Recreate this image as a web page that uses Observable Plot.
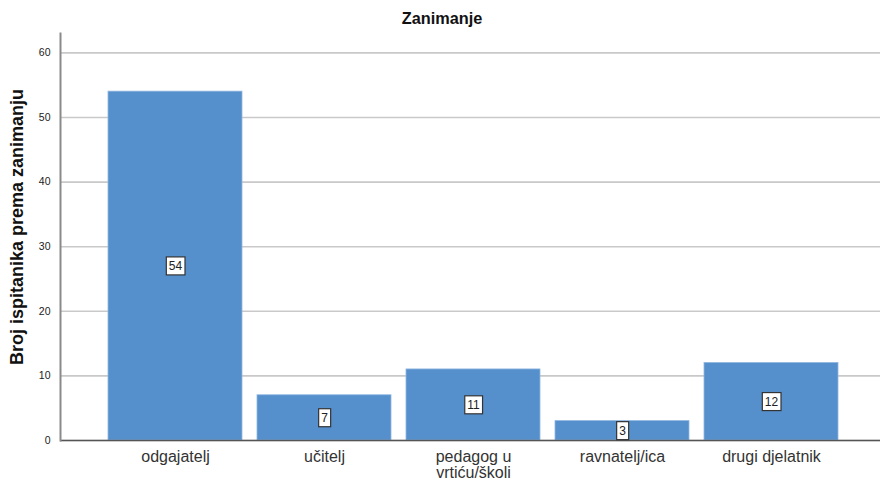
<!DOCTYPE html>
<html>
<head>
<meta charset="utf-8">
<script src="https://cdn.jsdelivr.net/npm/d3@7"></script>
<script src="https://cdn.jsdelivr.net/npm/@observablehq/plot@0.6"></script>
<style>
  body { margin: 0; background: #fff; }
  #wrap { position: relative; width: 880px; height: 481px; font-family: "Liberation Sans", Arial, sans-serif; }
  #title { position: absolute; top: 9px; left: 2px; width: 880px; text-align: center; font-weight: bold; font-size: 16.3px; color: #111; }
</style>
</head>
<body>
<div id="wrap"><div id="title">Zanimanje</div></div>
<script>
const categories = ["odgajatelj", "učitelj", "pedagog u vrtiću/školi", "ravnatelj/ica", "drugi djelatnik"];
const tickLabels = ["odgajatelj", "učitelj", "pedagog u\nvrtiću/školi", "ravnatelj/ica", "drugi djelatnik"];
const counts = [54, 7, 11, 3, 12];
const yTicks = [0, 10, 20, 30, 40, 50, 60];
const yLabel = "Broj ispitanika prema zanimanju";

const data = categories.map((c, i) => ({cat: c, n: counts[i]}));
const labelMap = new Map(categories.map((c, i) => [c, tickLabels[i]]));

const chart = Plot.plot({
  width: 880,
  height: 481,
  marginTop: 33,
  marginBottom: 41,
  marginLeft: 60,
  marginRight: 0,
  style: {fontFamily: "Liberation Sans, Arial, sans-serif", background: "#fff"},
  x: {domain: categories, range: [60, 886], paddingInner: 0.1, paddingOuter: 0.32, label: null},
  y: {domain: [0, 63], label: null},
  marks: [
    Plot.gridY(yTicks, {stroke: "#c9c9c9", strokeWidth: 1.6, strokeOpacity: 1}),
    Plot.barY(data, {x: "cat", y: "n", fill: "#5590cc", stroke: "#8fb6e0", strokeWidth: 0.8}),
    Plot.ruleY([0], {stroke: "#555", strokeWidth: 1.5}),
    Plot.frame({anchor: "left", stroke: "#8a8a8a", strokeWidth: 2}),
    Plot.axisY(yTicks, {tickSize: 0, tickPadding: 10, fontSize: 10.5, fill: "#222", label: null}),
    Plot.axisX({tickSize: 0, tickPadding: 10, fontSize: 16, fill: "#333", label: null, tickFormat: d => labelMap.get(d), lineHeight: 1.0}),
    Plot.text([yLabel], {frameAnchor: "left", textAnchor: "middle", rotate: -90, dx: -43, dy: -10, fontSize: 18, fontWeight: "bold", fill: "#111"}),
    Plot.text(data, {x: "cat", y: d => d.n / 2, text: d => String(d.n), fontSize: 12, fill: "#222", className: "vlabel"})
  ]
});
document.getElementById("wrap").appendChild(chart);

// draw white boxes behind value labels
const texts = chart.querySelectorAll(".vlabel text");
texts.forEach(t => {
  const b = t.getBBox();
  const r = document.createElementNS("http://www.w3.org/2000/svg", "rect");
  r.setAttribute("x", b.x - 2.5);
  r.setAttribute("y", b.y - 2);
  r.setAttribute("width", b.width + 5);
  r.setAttribute("height", b.height + 4);
  r.setAttribute("fill", "#fff");
  r.setAttribute("stroke", "#333");
  r.setAttribute("stroke-width", "1.2");
  const tr = t.getAttribute("transform");
  if (tr) r.setAttribute("transform", tr);
  t.parentNode.insertBefore(r, t);
});
</script>
</body>
</html>
